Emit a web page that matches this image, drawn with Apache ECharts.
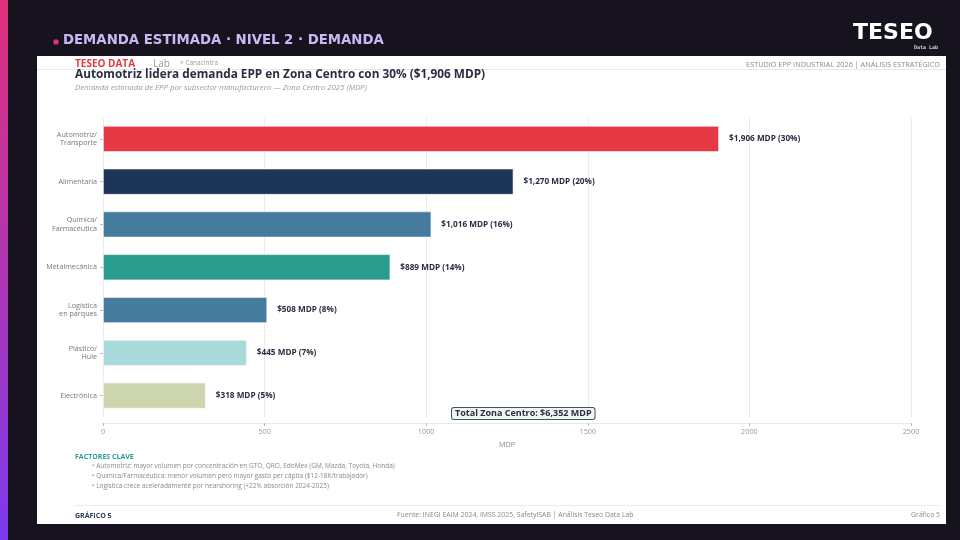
<!DOCTYPE html>
<html>
<head>
<meta charset="utf-8">
<script src="https://cdn.jsdelivr.net/npm/echarts@6/dist/echarts.min.js"></script>
<style>
  html, body { margin: 0; padding: 0; background: #16131f; }
  #chart { width: 960px; height: 540px; }
</style>
</head>
<body>
<div id="chart"></div>
<script>
// datos del grafico
var categories = ['Automotriz/\nTransporte', 'Alimentaria', 'Química/\nFarmacéutica', 'Metalmecánica', 'Logística\nen parques', 'Plástico/\nHule', 'Electrónica'];
var values = [1906, 1270, 1016, 889, 508, 445, 318];
var shares = [30, 20, 16, 14, 8, 7, 5];
var barColors = ['#e63946', '#1d3557', '#457b9d', '#2a9d8f', '#457b9d', '#a8dadc', '#ccd5ae'];
var xTicks = [0, 500, 1000, 1500, 2000, 2500];
var factores = [
  '• Automotriz: mayor volumen por concentración en GTO, QRO, EdoMex (GM, Mazda, Toyota, Honda)',
  '• Química/Farmacéutica: menor volumen pero mayor gasto per cápita ($12-18K/trabajador)',
  '• Logística crece aceleradamente por nearshoring (+22% absorción 2024-2025)'
];

var FONT = '"Open Sans", "Noto Sans", sans-serif';

function fmt(v) {
  return '$' + v.toLocaleString('en-US');
}

var barData = values.map(function (v, i) {
  return { value: v, itemStyle: { color: barColors[i] } };
});

var graphics = [
  // barra lateral degradada
  { type: 'rect', shape: { x: 0, y: 0, width: 8, height: 540 }, silent: true,
    style: { fill: new echarts.graphic.LinearGradient(0, 0, 0, 1, [
      { offset: 0, color: '#e0307a' }, { offset: 1, color: '#7c3aed' }]) } },
  // encabezado
  { type: 'circle', shape: { cx: 56, cy: 42, r: 2.7 }, style: { fill: '#e0307a' } },
  { type: 'text', left: 63, top: 34, style: { text: 'DEMANDA ESTIMADA · NIVEL 2 · DEMANDA', fill: '#cbb8f2',
    font: 'bold 13.3px "DejaVu Sans", sans-serif' } },
  { type: 'text', left: 853, top: 22, style: { text: 'TESEO', fill: '#ffffff',
    font: 'bold 22px "DejaVu Sans", sans-serif' } },
  { type: 'text', right: 22, top: 45, style: { text: 'Data Lab', fill: '#d8d8d8',
    font: 'bold 5px "DejaVu Sans Mono", monospace' } },
  // tarjeta blanca
  { type: 'rect', z: -10, shape: { x: 37, y: 56, width: 909, height: 468 }, style: { fill: '#ffffff' } },
  { type: 'line', shape: { x1: 37, y1: 69.5, x2: 946, y2: 69.5 }, style: { stroke: '#e8e8e8', lineWidth: 1 } },
  { type: 'text', left: 75, top: 59, style: { text: 'TESEO DATA', fill: '#e63946', font: 'bold 10px ' + FONT } },
  { type: 'text', left: 153, top: 59, style: { text: 'Lab', fill: '#999999', font: '10px ' + FONT } },
  { type: 'text', left: 180, top: 60, style: { text: '× Canacintra', fill: '#999999', font: '6.5px ' + FONT } },
  { type: 'text', right: 20, top: 61, style: { text: 'ESTUDIO EPP INDUSTRIAL 2026 | ANÁLISIS ESTRATÉGICO', fill: '#8a8a8a', font: '7.3px ' + FONT } },
  { type: 'text', left: 75, top: 69, style: { text: 'Automotriz lidera demanda EPP en Zona Centro con 30% ($1,906 MDP)', fill: '#2b2d42', font: 'bold 11.8px ' + FONT } },
  { type: 'text', left: 75, top: 84, style: { text: 'Demanda estimada de EPP por subsector manufacturero — Zona Centro 2025 (MDP)', fill: '#999999', font: 'italic 7.8px ' + FONT } },
  // total
  { type: 'text', left: 451, top: 407, z: 20, style: { text: 'Total Zona Centro: $6,352 MDP', fill: '#2b2d42', font: 'bold 9px ' + FONT,
    backgroundColor: '#f1f5ef', borderColor: '#3d5568', borderWidth: 1, borderRadius: 2, padding: [1, 3, 1, 3] } },
  // factores clave
  { type: 'text', left: 75, top: 453, style: { text: 'FACTORES CLAVE', fill: '#2a9d8f', font: 'bold 7px ' + FONT } },
  // pie
  { type: 'line', shape: { x1: 74, y1: 505.5, x2: 940, y2: 505.5 }, style: { stroke: '#ececec', lineWidth: 1 } },
  { type: 'text', left: 75, top: 512, style: { text: 'GRÁFICO 5', fill: '#2b3a55', font: 'bold 7px ' + FONT } },
  { type: 'text', left: 397, top: 512, style: { text: 'Fuente: INEGI EAIM 2024, IMSS 2025, SafetyISAB | Análisis Teseo Data Lab', fill: '#888888', font: '6.9px ' + FONT } },
  { type: 'text', right: 20, top: 512, style: { text: 'Gráfico 5', fill: '#888888', font: '6.9px ' + FONT } }
];
factores.forEach(function (t, i) {
  graphics.push({ type: 'text', left: 92, top: 463 + i * 10, style: { text: t, fill: '#888888', font: '6.5px ' + FONT } });
});

var option = {
  backgroundColor: '#16131f',
  animation: false,
  textStyle: { fontFamily: FONT },
  graphic: graphics,
  grid: { left: 103, right: 49, top: 117.5, height: 299.5, containLabel: false },
  xAxis: {
    type: 'value',
    min: 0, max: 2500, interval: 500,
    offset: 6,
    name: 'MDP', nameLocation: 'middle', nameGap: 18,
    nameTextStyle: { color: '#888888', fontSize: 7.3 },
    axisLine: { show: true, lineStyle: { color: '#e8e8e8' } },
    axisTick: { show: true, length: 3, lineStyle: { color: '#bbbbbb' } },
    axisLabel: { color: '#999999', fontSize: 7.3, margin: 5,
      formatter: function (v) { return String(v); } },
    splitLine: { show: true, lineStyle: { color: '#ececec' } }
  },
  yAxis: {
    type: 'category',
    inverse: true,
    data: categories,
    axisLine: { show: false },
    axisTick: { show: true, alignWithLabel: true, length: 3, lineStyle: { color: '#bbbbbb' } },
    axisLabel: { color: '#777777', fontSize: 7.2, lineHeight: 8.5, margin: 6, align: 'right' }
  },
  series: [{
    type: 'bar',
    data: barData,
    barCategoryGap: '39%',
    itemStyle: { opacity: 1, borderColor: 'rgba(255,255,255,0.7)', borderWidth: 0.8 },
    label: {
      show: true, position: 'right', distance: 10,
      color: '#2b2d42', fontSize: 8.2, fontWeight: 'bold',
      formatter: function (p) { return fmt(p.value) + ' MDP (' + shares[p.dataIndex] + '%)'; }
    }
  }]
};

var chart = echarts.init(document.getElementById('chart'));
chart.setOption(option);
</script>
</body>
</html>
